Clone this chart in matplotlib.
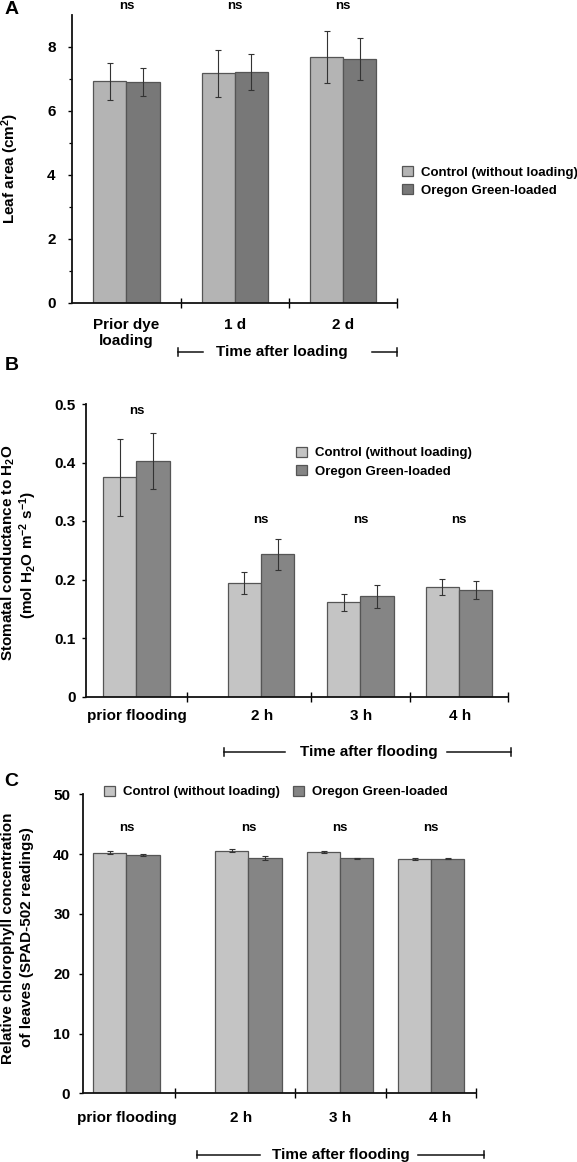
import matplotlib
matplotlib.use('Agg')
import matplotlib.pyplot as plt
import matplotlib.transforms as mtransforms
from matplotlib.patches import Patch

plt.rcParams['font.family'] = ['Liberation Sans', 'DejaVu Sans']
plt.rcParams['font.weight'] = 'bold'
plt.rcParams['mathtext.fontset'] = 'custom'
plt.rcParams['mathtext.rm'] = 'Liberation Sans:bold'
plt.rcParams['mathtext.it'] = 'Liberation Sans:bold'
plt.rcParams['mathtext.bf'] = 'Liberation Sans:bold'

# ---------------- data ----------------
series_names = ['Control (without loading)', 'Oregon Green-loaded']

# Panel A: leaf area (cm2)
a_categories = ['Prior dye\nloading', '1 d', '2 d']
a_control = [6.92, 7.18, 7.68]
a_control_err = [0.57, 0.73, 0.81]
a_loaded = [6.91, 7.21, 7.62]
a_loaded_err = [0.43, 0.57, 0.65]
a_sig = ['ns', 'ns', 'ns']
a_yticks = [0, 2, 4, 6, 8]
a_bracket_label = 'Time after loading'

# Panel B: stomatal conductance
b_categories = ['prior flooding', '2 h', '3 h', '4 h']
b_control = [0.375, 0.194, 0.161, 0.187]
b_control_err = [0.066, 0.018, 0.014, 0.014]
b_loaded = [0.403, 0.243, 0.171, 0.182]
b_loaded_err = [0.048, 0.026, 0.020, 0.016]
b_sig = ['ns', 'ns', 'ns', 'ns']
b_yticks = [0, 0.1, 0.2, 0.3, 0.4, 0.5]
b_ytick_labels = ['0', '0.1', '0.2', '0.3', '0.4', '0.5']
b_bracket_label = 'Time after flooding'

# Panel C: relative chlorophyll (SPAD)
c_categories = ['prior flooding', '2 h', '3 h', '4 h']
c_control = [40.2, 40.6, 40.4, 39.2]
c_control_err = [0.25, 0.3, 0.15, 0.2]
c_loaded = [39.85, 39.3, 39.3, 39.2]
c_loaded_err = [0.1, 0.35, 0.08, 0.1]
c_sig = ['ns', 'ns', 'ns', 'ns']
c_yticks = [0, 10, 20, 30, 40, 50]
c_bracket_label = 'Time after flooding'

# ---------------- layout ----------------
W, H = 577, 1162
fig = plt.figure(figsize=(W / 100, H / 100), dpi=100)


def px_axes(l, t, r, b):
    return fig.add_axes([l / W, 1 - b / H, (r - l) / W, (b - t) / H])


def fx(px):
    return px / W


def fy(py):
    return 1 - py / H


EDGE = '#555555'
ERR = '#333333'


def draw_panel(ax, centers, width, xlim, ylim, seps, label_pos, cats,
               ctrl, ctrl_err, load, load_err, colors, sig, sig_y, sig_trans_axes,
               yticks, yticklabels, ytick_pad, xlabel_pad, bracket, bracket_label,
               minor_yticks=None):
    cl = [c - width / 2 for c in centers]
    dl = [c + width / 2 for c in centers]
    ax.bar(cl, ctrl, width, color=colors[0], edgecolor=EDGE, linewidth=0.9,
           label=series_names[0], zorder=2)
    ax.bar(dl, load, width, color=colors[1], edgecolor=EDGE, linewidth=0.9,
           label=series_names[1], zorder=2)
    ax.errorbar(cl, ctrl, yerr=ctrl_err, fmt='none', ecolor=ERR, elinewidth=0.8,
                capsize=2, capthick=0.8, zorder=3)
    ax.errorbar(dl, load, yerr=load_err, fmt='none', ecolor=ERR, elinewidth=0.8,
                capsize=2, capthick=0.8, zorder=3)
    ax.set_xlim(*xlim)
    ax.set_ylim(*ylim)
    for s in ['top', 'right']:
        ax.spines[s].set_visible(False)
    for s in ['left', 'bottom']:
        ax.spines[s].set_linewidth(1.3)
        ax.spines[s].set_color('#111111')
    ax.spines['left'].set_zorder(4)
    ax.spines['bottom'].set_zorder(4)
    # separators as major ticks, labels as minor ticks
    ax.set_xticks(seps)
    ax.set_xticklabels([''] * len(seps))
    ax.set_xticks(label_pos, minor=True)
    ax.set_xticklabels(cats, minor=True, fontsize=11, fontweight='bold')
    ax.tick_params(axis='x', which='major', direction='inout', length=7, width=1.0)
    ax.tick_params(axis='x', which='minor', length=0, pad=xlabel_pad)
    ax.set_yticks(yticks)
    ax.set_yticklabels(yticklabels, fontsize=11, fontweight='bold')
    ax.tick_params(axis='y', which='major', direction='out', length=3, width=1.0,
                   pad=ytick_pad)
    if minor_yticks is not None:
        ax.set_yticks(minor_yticks, minor=True)
        ax.tick_params(axis='y', which='minor', direction='out', length=2, width=0.9)
    # significance labels
    if sig_trans_axes:
        tr = mtransforms.blended_transform_factory(ax.transData, ax.transAxes)
    else:
        tr = ax.transData
    for c, s, yy in zip(centers, sig, sig_y):
        ax.text(c, yy, s, transform=tr, ha='center', va='center', fontsize=9.5,
                fontweight='bold', clip_on=False)
    # bracket below axis
    btr = mtransforms.blended_transform_factory(ax.transData, ax.transAxes)
    x0, x1, xt, x2, x3, by, cap = bracket
    ax.plot([x0, x1], [by, by], color='#111111', lw=1.1, transform=btr, clip_on=False)
    ax.plot([x2, x3], [by, by], color='#111111', lw=1.1, transform=btr, clip_on=False)
    ax.plot([x0, x0], [by - cap, by + cap], color='#111111', lw=1.1, transform=btr,
            clip_on=False)
    ax.plot([x3, x3], [by - cap, by + cap], color='#111111', lw=1.1, transform=btr,
            clip_on=False)
    ax.text(xt, by, bracket_label, transform=btr, ha='center', va='center',
            fontsize=11, fontweight='bold')


# ---- Panel A ----
axA = px_axes(72.3, 15, 397.3, 302.7)
draw_panel(axA, centers=[0, 1, 2], width=0.307, xlim=(-0.5, 2.5), ylim=(0, 9),
           seps=[0.5, 1.5, 2.5], label_pos=[0, 1, 2], cats=a_categories,
           ctrl=a_control, ctrl_err=a_control_err, load=a_loaded, load_err=a_loaded_err,
           colors=['#b4b4b4', '#787878'], sig=a_sig, sig_y=[1.03] * 3,
           sig_trans_axes=True, yticks=a_yticks, yticklabels=[str(v) for v in a_yticks],
           ytick_pad=9, xlabel_pad=11,
           bracket=(0.479, 0.707, 1.436, 2.267, 2.495, -0.171, 0.014),
           bracket_label=a_bracket_label, minor_yticks=[1, 3, 5, 7])
fig.text(fx(10.7), fy(168), 'Leaf area (cm$^{2}$)', rotation=90, ha='center',
         va='center', fontsize=11, fontweight='bold')
axA.legend(handles=[Patch(facecolor='#b4b4b4', edgecolor=EDGE, lw=0.9),
                    Patch(facecolor='#787878', edgecolor=EDGE, lw=0.9)],
           labels=series_names, loc='upper left',
           bbox_to_anchor=(fx(401.7), fy(166)), bbox_transform=fig.transFigure,
           frameon=False, fontsize=9.5, handlelength=0.83, handleheight=0.83,
           handletextpad=0.63, labelspacing=0.4, borderpad=0, borderaxespad=0)
fig.text(fx(11.5), fy(10), 'A', ha='center', va='center', fontsize=14, fontweight='bold')

# ---- Panel B ----
axB = px_axes(85.7, 404, 508.3, 696.5)
b_centers = [0.509, 1.763, 2.76, 3.752]
draw_panel(axB, centers=b_centers, width=0.335, xlim=(0, 4.247), ylim=(0, 0.5),
           seps=[1.015, 2.261, 3.256, 4.247], label_pos=[0.513, 1.772, 2.767, 3.762],
           cats=b_categories, ctrl=b_control, ctrl_err=b_control_err, load=b_loaded,
           load_err=b_loaded_err, colors=['#c4c4c4', '#858585'], sig=b_sig,
           sig_y=[0.488, 0.302, 0.302, 0.302], sig_trans_axes=False,
           yticks=b_yticks, yticklabels=b_ytick_labels, ytick_pad=4, xlabel_pad=9,
           bracket=(1.393, 2.0, 2.847, 3.626, 4.277, -0.19, 0.013),
           bracket_label=b_bracket_label)
fig.text(fx(8), fy(553), 'Stomatal conductance to H$_{2}$O', rotation=90, ha='center',
         va='center', fontsize=11, fontweight='bold')
fig.text(fx(28), fy(555), '(mol H$_{2}$O m$^{-2}$ s$^{-1}$)', rotation=90, ha='center',
         va='center', fontsize=11, fontweight='bold')
axB.legend(handles=[Patch(facecolor='#c4c4c4', edgecolor=EDGE, lw=0.9),
                    Patch(facecolor='#858585', edgecolor=EDGE, lw=0.9)],
           labels=series_names, loc='upper left',
           bbox_to_anchor=(fx(296.2), fy(446.5)), bbox_transform=fig.transFigure,
           frameon=False, fontsize=9.5, handlelength=0.83, handleheight=0.83,
           handletextpad=0.63, labelspacing=0.42, borderpad=0, borderaxespad=0)
fig.text(fx(11.5), fy(366), 'B', ha='center', va='center', fontsize=14, fontweight='bold')

# ---- Panel C ----
axC = px_axes(82.7, 794.3, 475.7, 1093.3)
c_centers = [0.48, 1.821, 2.83, 3.83]
draw_panel(axC, centers=c_centers, width=0.365, xlim=(0, 4.32), ylim=(0, 50),
           seps=[1.013, 2.33, 3.333, 4.32], label_pos=[0.483, 1.744, 2.835, 3.93],
           cats=c_categories, ctrl=c_control, ctrl_err=c_control_err, load=c_loaded,
           load_err=c_loaded_err, colors=['#c4c4c4', '#858585'], sig=c_sig,
           sig_y=[44.3] * 4, sig_trans_axes=False,
           yticks=c_yticks, yticklabels=[str(v) for v in c_yticks], ytick_pad=6,
           xlabel_pad=13,
           bracket=(1.253, 1.947, 2.838, 3.688, 4.413, -0.205, 0.013),
           bracket_label=c_bracket_label)
fig.text(fx(8), fy(938), 'Relative chlorophyll concentration', rotation=90, ha='center',
         va='center', fontsize=11, fontweight='bold')
fig.text(fx(26.6), fy(937), 'of leaves (SPAD-502 readings)', rotation=90, ha='center',
         va='center', fontsize=11, fontweight='bold')
axC.legend(handles=[Patch(facecolor='#c4c4c4', edgecolor=EDGE, lw=0.9),
                    Patch(facecolor='#858585', edgecolor=EDGE, lw=0.9)],
           labels=series_names, loc='upper left', ncol=2,
           bbox_to_anchor=(fx(103.7), fy(785.7)), bbox_transform=fig.transFigure,
           frameon=False, fontsize=9.5, handlelength=0.83, handleheight=0.83,
           handletextpad=0.63, columnspacing=1.0, borderpad=0, borderaxespad=0)
fig.text(fx(11.5), fy(781), 'C', ha='center', va='center', fontsize=14, fontweight='bold')

fig.savefig('out.png', dpi=100)
